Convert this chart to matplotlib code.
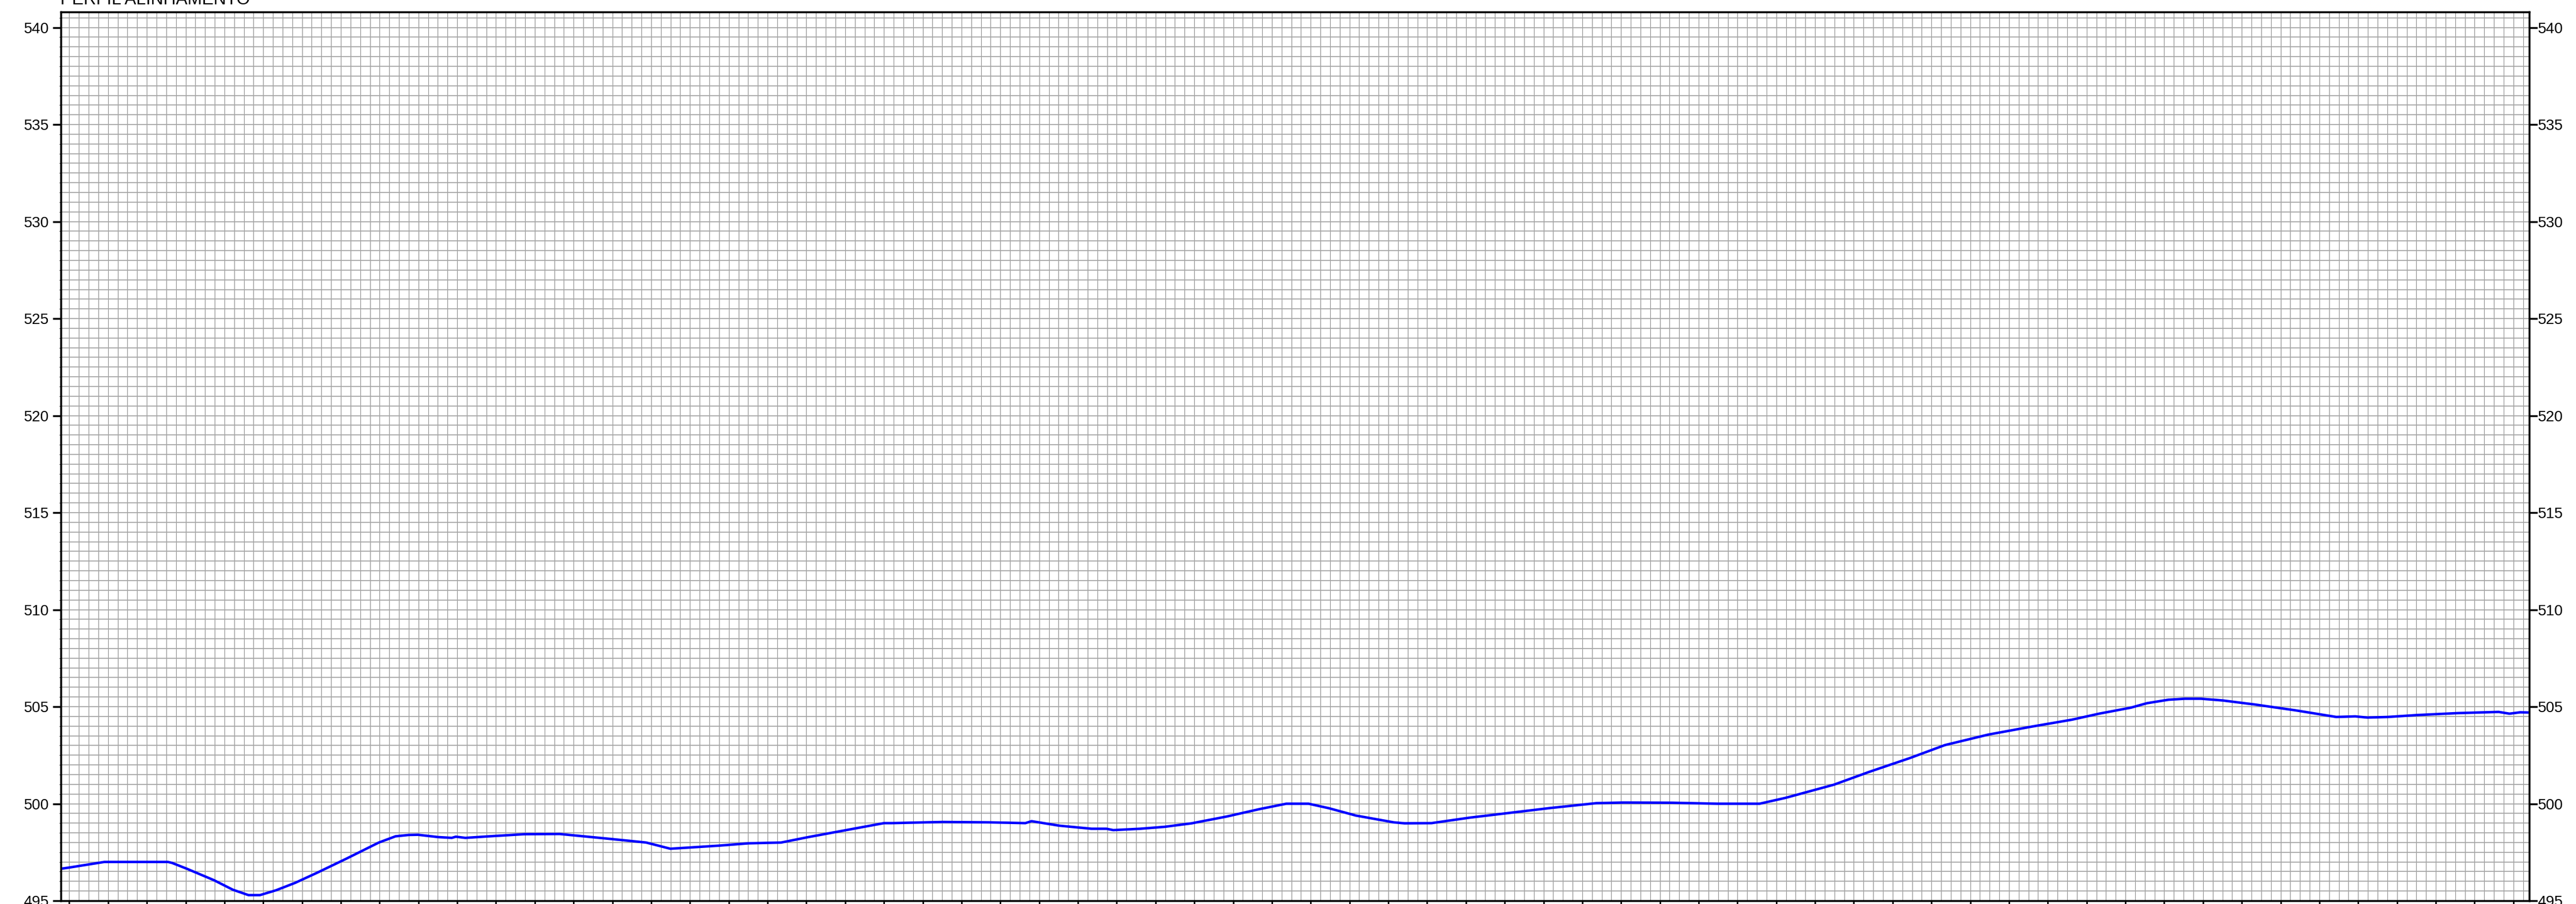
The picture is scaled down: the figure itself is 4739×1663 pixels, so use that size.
import matplotlib
matplotlib.use("Agg")
import matplotlib.pyplot as plt
import numpy as np
from matplotlib.ticker import MultipleLocator

plt.rcParams['font.family'] = ['Liberation Sans', 'DejaVu Sans']

estaca = [-4.2, -0.7, 18.1, 50.9, 53.0, 60.6, 74.6, 84.3, 92.4, 98.3, 106.6, 116.4,
          127.5, 142.9, 159.6, 168.2, 174.9, 179.8, 190.2, 197.2, 199.3, 204.2,
          216.5, 234.6, 252.8, 261.1, 280.6, 297.4, 309.9, 335.0, 350.3, 367.0,
          381.0, 400.5, 420.0, 423.9, 450.4, 474.1, 492.9, 496.1, 510.3, 527.0,
          534.7, 538.2, 552.1, 564.7, 578.6, 596.7, 613.5, 627.4, 638.9, 649.3,
          663.3, 682.8, 688.4, 702.3, 721.8, 742.7, 763.6, 787.3, 801.3, 826.4,
          849.8, 871.4, 884.7, 909.7, 927.9, 948.8, 966.9, 989.2, 1011.5, 1032.4,
          1046.4, 1062.8, 1071.1, 1082.3, 1090.6, 1099.0, 1110.2, 1126.9, 1147.8,
          1168.7, 1178.5, 1184.7, 1195.2, 1210.5, 1231.5, 1252.4, 1258.0, 1263.5,
          1268.1]
cota = [496.65, 496.70, 497.00, 497.00, 496.95, 496.65, 496.06, 495.57, 495.29,
        495.29, 495.54, 495.92, 496.43, 497.17, 498.00, 498.32, 498.39, 498.40,
        498.28, 498.24, 498.30, 498.24, 498.32, 498.43, 498.44, 498.36, 498.17,
        498.00, 497.68, 497.84, 497.96, 498.00, 498.28, 498.64, 499.00, 499.00,
        499.06, 499.04, 499.00, 499.10, 498.87, 498.71, 498.71, 498.64, 498.71,
        498.81, 498.99, 499.34, 499.72, 500.00, 500.00, 499.77, 499.39, 499.04,
        498.99, 499.00, 499.28, 499.53, 499.78, 500.03, 500.06, 500.05, 500.00,
        500.00, 500.30, 500.98, 501.64, 502.35, 503.02, 503.56, 503.97, 504.33,
        504.64, 504.95, 505.18, 505.36, 505.41, 505.41, 505.32, 505.11, 504.81,
        504.47, 504.50, 504.44, 504.47, 504.57, 504.67, 504.73, 504.64, 504.71,
        504.70]
ylim = (495, 540.8)
yticks = np.arange(495, 541, 5)

fig = plt.figure(figsize=(47.39, 16.63), dpi=100)
ax = fig.add_axes([0.02372, 0.0036, 0.95807, 0.98316])

ax.plot(estaca, cota, color="#0000ff", linewidth=3.3, zorder=3)

ax.set_xlim(-4.2, 1268.1)
ax.set_ylim(*ylim)

ax.xaxis.set_major_locator(MultipleLocator(20))
ax.xaxis.set_minor_locator(MultipleLocator(5))
ax.set_yticks(yticks)
ax.yaxis.set_minor_locator(MultipleLocator(0.5))

ax.grid(which="both", axis="x", color="#8f8f8f", linewidth=0.85)
ax.grid(which="both", axis="y", color="#a6a6a6", linewidth=1.3)
ax.set_axisbelow(True)

ax.tick_params(axis="y", which="major", left=True, right=False, labelleft=True,
               direction="out", length=11, width=2.5, labelsize=20, pad=5)
ax.tick_params(axis="y", which="minor", left=False, right=False)
ax.tick_params(axis="x", which="major", bottom=True, labelbottom=False,
               direction="out", length=8, width=2.0)
ax.tick_params(axis="x", which="minor", bottom=False)

# escala da direita
ax2 = ax.twinx()
ax2.set_ylim(*ylim)
ax2.set_yticks(yticks)
ax2.tick_params(axis="y", direction="out", length=11, width=2.5, labelsize=20, pad=0.5)

for a in (ax, ax2):
    for s in a.spines.values():
        s.set_linewidth(2.4)

fig.text(0.0234, 0.9952, "PERFIL ALINHAMENTO", fontsize=23, ha="left", va="baseline")

fig.savefig("out.png", dpi=100)
